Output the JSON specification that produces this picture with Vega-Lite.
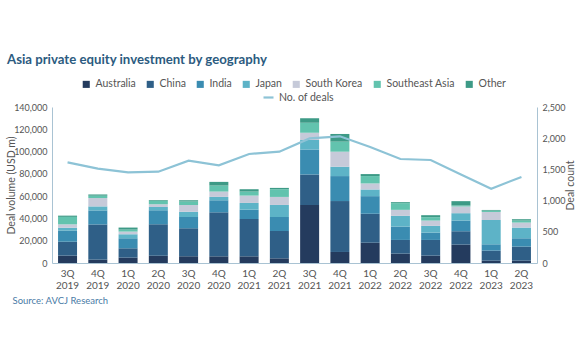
{
  "$schema": "https://vega.github.io/schema/vega-lite/v6.json",
  "width": 485,
  "height": 156,
  "autosize": {"type": "none"},
  "padding": {"left": 52, "top": 107, "right": 43, "bottom": 95},
  "background": "white",
  "config": {
    "view": {"stroke": null},
    "font": "Lato",
    "axis": {"labelFont": "Lato", "titleFont": "Lato", "labelColor": "#555555", "titleColor": "#555555", "labelFontSize": 10, "titleFontSize": 10.5, "titleFontWeight": "normal", "domainColor": "#A9C3D3", "grid": false, "ticks": false},
    "legend": {"labelFont": "Lato", "labelFontSize": 10.5, "labelColor": "#555555"}
  },
  "title": {"text": "Asia private equity investment by geography", "anchor": "start", "frame": "group", "dx": -45, "fontSize": 13.2, "fontWeight": "bold", "color": "#2C5B80", "font": "Lato", "offset": 12},
  "datasets": {
    "bars": [
      {"q": "3Q 2019", "region": "Australia", "value": 6600}, {"q": "3Q 2019", "region": "China", "value": 12500}, {"q": "3Q 2019", "region": "India", "value": 10100}, {"q": "3Q 2019", "region": "Japan", "value": 2500}, {"q": "3Q 2019", "region": "South Korea", "value": 3000}, {"q": "3Q 2019", "region": "Southeast Asia", "value": 6700}, {"q": "3Q 2019", "region": "Other", "value": 1100},
      {"q": "4Q 2019", "region": "Australia", "value": 3000}, {"q": "4Q 2019", "region": "China", "value": 31600}, {"q": "4Q 2019", "region": "India", "value": 12600}, {"q": "4Q 2019", "region": "Japan", "value": 3600}, {"q": "4Q 2019", "region": "South Korea", "value": 7500}, {"q": "4Q 2019", "region": "Southeast Asia", "value": 2100}, {"q": "4Q 2019", "region": "Other", "value": 1100},
      {"q": "1Q 2020", "region": "Australia", "value": 4800}, {"q": "1Q 2020", "region": "China", "value": 8400}, {"q": "1Q 2020", "region": "India", "value": 9000}, {"q": "1Q 2020", "region": "Japan", "value": 3600}, {"q": "1Q 2020", "region": "South Korea", "value": 2400}, {"q": "1Q 2020", "region": "Southeast Asia", "value": 1800}, {"q": "1Q 2020", "region": "Other", "value": 1800},
      {"q": "2Q 2020", "region": "Australia", "value": 6600}, {"q": "2Q 2020", "region": "China", "value": 28100}, {"q": "2Q 2020", "region": "India", "value": 12600}, {"q": "2Q 2020", "region": "Japan", "value": 3000}, {"q": "2Q 2020", "region": "South Korea", "value": 2400}, {"q": "2Q 2020", "region": "Southeast Asia", "value": 3000}, {"q": "2Q 2020", "region": "Other", "value": 600},
      {"q": "3Q 2020", "region": "Australia", "value": 6000}, {"q": "3Q 2020", "region": "China", "value": 25100}, {"q": "3Q 2020", "region": "India", "value": 10200}, {"q": "3Q 2020", "region": "Japan", "value": 4800}, {"q": "3Q 2020", "region": "South Korea", "value": 6000}, {"q": "3Q 2020", "region": "Southeast Asia", "value": 3000}, {"q": "3Q 2020", "region": "Other", "value": 1200},
      {"q": "4Q 2020", "region": "Australia", "value": 6000}, {"q": "4Q 2020", "region": "China", "value": 39500}, {"q": "4Q 2020", "region": "India", "value": 10800}, {"q": "4Q 2020", "region": "Japan", "value": 3000}, {"q": "4Q 2020", "region": "South Korea", "value": 4800}, {"q": "4Q 2020", "region": "Southeast Asia", "value": 5400}, {"q": "4Q 2020", "region": "Other", "value": 3300},
      {"q": "1Q 2021", "region": "Australia", "value": 6000}, {"q": "1Q 2021", "region": "China", "value": 33500}, {"q": "1Q 2021", "region": "India", "value": 8400}, {"q": "1Q 2021", "region": "Japan", "value": 6000}, {"q": "1Q 2021", "region": "South Korea", "value": 6600}, {"q": "1Q 2021", "region": "Southeast Asia", "value": 3600}, {"q": "1Q 2021", "region": "Other", "value": 2100},
      {"q": "2Q 2021", "region": "Australia", "value": 4200}, {"q": "2Q 2021", "region": "China", "value": 24500}, {"q": "2Q 2021", "region": "India", "value": 12600}, {"q": "2Q 2021", "region": "Japan", "value": 10800}, {"q": "2Q 2021", "region": "South Korea", "value": 7200}, {"q": "2Q 2021", "region": "Southeast Asia", "value": 6900}, {"q": "2Q 2021", "region": "Other", "value": 1200},
      {"q": "3Q 2021", "region": "Australia", "value": 52000}, {"q": "3Q 2021", "region": "China", "value": 27500}, {"q": "3Q 2021", "region": "India", "value": 22400}, {"q": "3Q 2021", "region": "Japan", "value": 8400}, {"q": "3Q 2021", "region": "South Korea", "value": 6600}, {"q": "3Q 2021", "region": "Southeast Asia", "value": 9000}, {"q": "3Q 2021", "region": "Other", "value": 3900},
      {"q": "4Q 2021", "region": "Australia", "value": 9900}, {"q": "4Q 2021", "region": "China", "value": 45700}, {"q": "4Q 2021", "region": "India", "value": 22400}, {"q": "4Q 2021", "region": "Japan", "value": 8400}, {"q": "4Q 2021", "region": "South Korea", "value": 13500}, {"q": "4Q 2021", "region": "Southeast Asia", "value": 9000}, {"q": "4Q 2021", "region": "Other", "value": 6900},
      {"q": "1Q 2022", "region": "Australia", "value": 18200}, {"q": "1Q 2022", "region": "China", "value": 26000}, {"q": "1Q 2022", "region": "India", "value": 15800}, {"q": "1Q 2022", "region": "Japan", "value": 6000}, {"q": "1Q 2022", "region": "South Korea", "value": 5400}, {"q": "1Q 2022", "region": "Southeast Asia", "value": 6600}, {"q": "1Q 2022", "region": "Other", "value": 1800},
      {"q": "2Q 2022", "region": "Australia", "value": 8400}, {"q": "2Q 2022", "region": "China", "value": 12300}, {"q": "2Q 2022", "region": "India", "value": 12000}, {"q": "2Q 2022", "region": "Japan", "value": 9600}, {"q": "2Q 2022", "region": "South Korea", "value": 5400}, {"q": "2Q 2022", "region": "Southeast Asia", "value": 6000}, {"q": "2Q 2022", "region": "Other", "value": 900},
      {"q": "3Q 2022", "region": "Australia", "value": 6600}, {"q": "3Q 2022", "region": "China", "value": 14100}, {"q": "3Q 2022", "region": "India", "value": 6600}, {"q": "3Q 2022", "region": "Japan", "value": 6000}, {"q": "3Q 2022", "region": "South Korea", "value": 4800}, {"q": "3Q 2022", "region": "Southeast Asia", "value": 3000}, {"q": "3Q 2022", "region": "Other", "value": 1800},
      {"q": "4Q 2022", "region": "Australia", "value": 16500}, {"q": "4Q 2022", "region": "China", "value": 12000}, {"q": "4Q 2022", "region": "India", "value": 9600}, {"q": "4Q 2022", "region": "Japan", "value": 6600}, {"q": "4Q 2022", "region": "South Korea", "value": 6000}, {"q": "4Q 2022", "region": "Southeast Asia", "value": 900}, {"q": "4Q 2022", "region": "Other", "value": 3900},
      {"q": "1Q 2023", "region": "Australia", "value": 2100}, {"q": "1Q 2023", "region": "China", "value": 9000}, {"q": "1Q 2023", "region": "India", "value": 5700}, {"q": "1Q 2023", "region": "Japan", "value": 21800}, {"q": "1Q 2023", "region": "South Korea", "value": 7200}, {"q": "1Q 2023", "region": "Southeast Asia", "value": 1200}, {"q": "1Q 2023", "region": "Other", "value": 600},
      {"q": "2Q 2023", "region": "Australia", "value": 2100}, {"q": "2Q 2023", "region": "China", "value": 12600}, {"q": "2Q 2023", "region": "India", "value": 7500}, {"q": "2Q 2023", "region": "Japan", "value": 9600}, {"q": "2Q 2023", "region": "South Korea", "value": 4500}, {"q": "2Q 2023", "region": "Southeast Asia", "value": 1800}, {"q": "2Q 2023", "region": "Other", "value": 1200}
    ],
    "deals": [
      {"q": "3Q 2019", "deals": 1613}, {"q": "4Q 2019", "deals": 1512}, {"q": "1Q 2020", "deals": 1453}, {"q": "2Q 2020", "deals": 1463},
      {"q": "3Q 2020", "deals": 1640}, {"q": "4Q 2020", "deals": 1565}, {"q": "1Q 2021", "deals": 1747}, {"q": "2Q 2021", "deals": 1784},
      {"q": "3Q 2021", "deals": 1997}, {"q": "4Q 2021", "deals": 2030}, {"q": "1Q 2022", "deals": 1860}, {"q": "2Q 2022", "deals": 1667},
      {"q": "3Q 2022", "deals": 1651}, {"q": "4Q 2022", "deals": 1420}, {"q": "1Q 2023", "deals": 1191}, {"q": "2Q 2023", "deals": 1379}
    ]
  },
  "layer": [
    {
      "data": {"name": "bars"},
      "transform": [{"calculate": "indexof(['Australia','China','India','Japan','South Korea','Southeast Asia','Other'], datum.region)", "as": "k"}],
      "mark": {"type": "bar"},
      "encoding": {
        "x": {"field": "q", "type": "nominal", "sort": null, "scale": {"paddingInner": 0.372, "paddingOuter": 0.2},
          "axis": {"title": "Source: AVCJ Research", "titleAnchor": "start", "titleAlign": "left", "titleBaseline": "middle", "titleX": -40, "titleY": 37, "titleFontSize": 9.5, "titleColor": "#4A7BA6", "labelExpr": "split(datum.value, ' ')", "labelAngle": 0, "labelPadding": 5, "labelLineHeight": 12}},
        "y": {"field": "value", "type": "quantitative", "aggregate": "sum", "stack": "zero", "scale": {"domain": [0, 140000]},
          "axis": {"title": "Deal volume (USD m)", "values": [0, 20000, 40000, 60000, 80000, 100000, 120000, 140000], "format": ",.0f", "labelFontSize": 9, "labelPadding": 5, "titleX": -41, "titleY": 78, "titleBaseline": "middle", "titleAlign": "center", "titleAngle": -90}},
        "color": {"field": "region", "type": "nominal",
          "scale": {"domain": ["Australia", "China", "India", "Japan", "South Korea", "Southeast Asia", "Other"], "range": ["#243B5E", "#2F5F87", "#3A8CB1", "#5DB3C7", "#C6CAD9", "#62C3AE", "#3D9A86"]},
          "legend": {"title": null, "orient": "none", "legendX": 29, "legendY": -28, "direction": "horizontal", "columns": 7, "columnPadding": 9, "symbolType": "square", "symbolSize": 50, "symbolStrokeWidth": 0}},
        "order": {"field": "k", "type": "quantitative", "sort": "ascending"}
      }
    },
    {
      "data": {"name": "deals"},
      "mark": {"type": "line", "strokeWidth": 2.2},
      "encoding": {
        "x": {"field": "q", "type": "nominal", "sort": null},
        "y": {"field": "deals", "type": "quantitative", "scale": {"domain": [0, 2500]},
          "axis": {"orient": "right", "title": "Deal count", "values": [0, 500, 1000, 1500, 2000, 2500], "format": ",.0f", "labelFontSize": 9, "labelPadding": 5, "titleX": 33, "titleY": 78, "titleBaseline": "middle", "titleAlign": "center", "titleAngle": -90}},
        "color": {"datum": "No. of deals", "type": "nominal", "scale": {"range": ["#8DC3D6"]},
          "legend": {"title": null, "orient": "none", "legendX": 210, "legendY": -16, "symbolType": "stroke", "symbolStrokeWidth": 2.2, "symbolSize": 100}}
      }
    }
  ],
  "resolve": {"scale": {"y": "independent", "color": "independent"}}
}
